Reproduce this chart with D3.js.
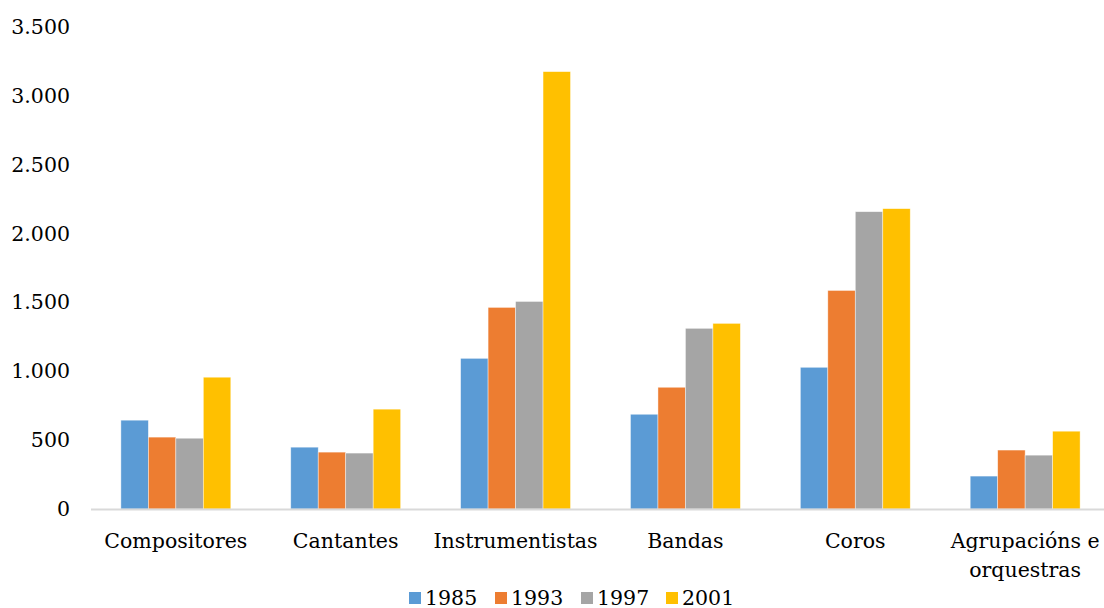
<!DOCTYPE html>
<html><head><meta charset="utf-8">
<script src="https://cdn.jsdelivr.net/npm/d3@7"></script>
<style>
html,body{margin:0;padding:0;background:#fff;}
text{font-family:"DejaVu Serif",serif;fill:#000;}
</style></head>
<body><svg id="c" width="1104" height="608"></svg>
<script>
const categories = ["Compositores","Cantantes","Instrumentistas","Bandas","Coros","Agrupacións e\norquestras"];
const seriesNames = ["1985","1993","1997","2001"];
const seriesColors = ["#5b9bd5","#ed7d31","#a5a5a5","#ffc000"];
const v1985 = [645, 449, 1094, 688, 1029, 239];
const v1993 = [522, 413, 1464, 884, 1587, 428];
const v1997 = [514, 406, 1507, 1312, 2159, 391];
const v2001 = [957, 725, 3176, 1348, 2181, 565];
const yTicks = [0,500,1000,1500,2000,2500,3000,3500];

const values = [v1985, v1993, v1997, v2001];
const svg = d3.select("#c");
const pLeft = 91, pRight = 1110, pTop = 27, pBottom = 509;
const x0 = d3.scaleBand().domain(categories).range([pLeft, pRight]).paddingInner(0.353).paddingOuter(0.176);
const x1 = d3.scaleBand().domain(seriesNames).range([0, x0.bandwidth()]);
const y = d3.scaleLinear().domain([0,3500]).range([pBottom, pTop]);
const loc = d3.formatLocale({decimal:",", thousands:".", grouping:[3], currency:["",""]});
const fmt = loc.format(",d");

// y axis labels
const ya = svg.append("g").attr("transform",`translate(${pLeft},0)`)
  .call(d3.axisLeft(y).tickValues(yTicks).tickFormat(fmt).tickSize(0).tickPadding(21));
ya.select(".domain").remove();
ya.selectAll("text").style("font-size","20.5px").attr("font-family",null).attr("fill",null);

// bars
categories.forEach((c,ci)=>{
  const g = svg.append("g").attr("transform",`translate(${x0(c)},0)`);
  seriesNames.forEach((s,si)=>{
    g.append("rect").attr("x",x1(s)).attr("y",y(values[si][ci]))
     .attr("width",x1.bandwidth()).attr("height",y(0)-y(values[si][ci]))
     .attr("fill",seriesColors[si]).attr("stroke","#fff").attr("stroke-width",0.7).attr("stroke-opacity",0.6);
  });
});

// x axis line
svg.append("line").attr("x1",pLeft).attr("x2",1104).attr("y1",y(0)+0.5).attr("y2",y(0)+0.5)
  .attr("stroke","#d9d9d9").attr("stroke-width",2);

// x labels
categories.forEach(c=>{
  const lines = c.split("\n");
  const t = svg.append("text").attr("text-anchor","middle").style("font-size","20.5px")
    .attr("x", x0(c)+x0.bandwidth()/2).attr("y", 548);
  lines.forEach((l,i)=> t.append("tspan").attr("x",x0(c)+x0.bandwidth()/2).attr("dy", i===0?0:29).text(l));
});

// legend
const legX = [409, 495, 581, 666];
seriesNames.forEach((s,i)=>{
  svg.append("rect").attr("x",legX[i]).attr("y",592).attr("width",12).attr("height",12).attr("fill",seriesColors[i]);
  svg.append("text").attr("x",legX[i]+16).attr("y",604.5).style("font-size","20.5px").text(s);
});
</script></body></html>
